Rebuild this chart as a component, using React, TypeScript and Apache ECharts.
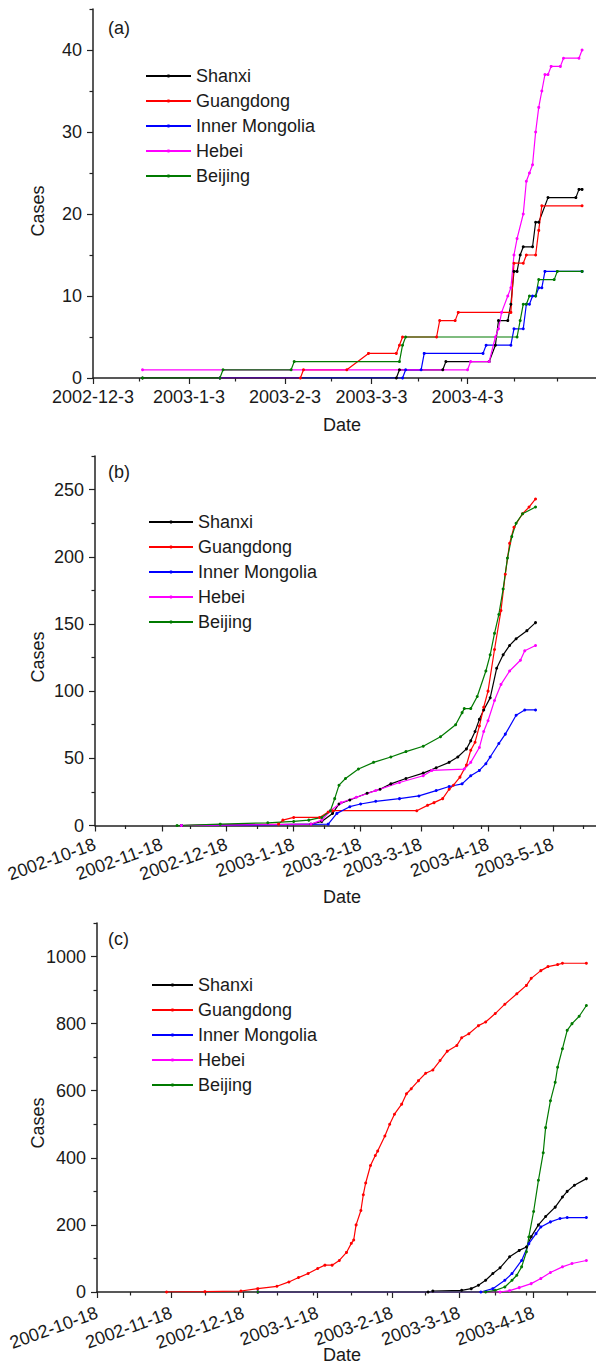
import React, { useEffect, useRef } from "react";
import * as echarts from "echarts";

type Pt = [string, number];

const NAMES = ["Shanxi", "Guangdong", "Inner Mongolia", "Hebei", "Beijing"];
const COLORS = ["#000000", "#ff0000", "#0000ff", "#ff00ff", "#007a00"];

// ---------- Panel (a) ----------
const aShanxi: Pt[] = [["2002-12-19",0],["2003-3-11",0],["2003-3-12",1],["2003-3-26",1],["2003-3-27",2],["2003-4-10",2],["2003-4-12",4],["2003-4-13",7],["2003-4-16",7],["2003-4-17",9],["2003-4-18",13],["2003-4-19",13],["2003-4-20",15],["2003-4-21",16],["2003-4-24",16],["2003-4-25",19],["2003-4-26",19],["2003-4-29",22],["2003-5-8",22],["2003-5-9",23],["2003-5-10",23]];
const aGuangdong: Pt[] = [["2003-1-13",0],["2003-2-8",0],["2003-2-9",1],["2003-2-23",1],["2003-3-2",3],["2003-3-11",3],["2003-3-12",4],["2003-3-13",5],["2003-3-24",5],["2003-3-25",7],["2003-3-30",7],["2003-3-31",8],["2003-4-17",8],["2003-4-18",14],["2003-4-21",14],["2003-4-22",15],["2003-4-25",15],["2003-4-26",18],["2003-4-27",21],["2003-5-10",21]];
const aInnerMongolia: Pt[] = [["2003-1-13",0],["2003-3-13",0],["2003-3-14",1],["2003-3-19",1],["2003-3-20",3],["2003-4-8",3],["2003-4-9",4],["2003-4-17",4],["2003-4-18",6],["2003-4-21",6],["2003-4-22",9],["2003-4-23",9],["2003-4-24",10],["2003-4-25",10],["2003-4-26",11],["2003-4-27",11],["2003-4-28",13],["2003-5-10",13]];
const aHebei: Pt[] = [["2002-12-19",1],["2003-4-3",1],["2003-4-4",2],["2003-4-10",2],["2003-4-12",5],["2003-4-13",6],["2003-4-14",8],["2003-4-16",10],["2003-4-17",11],["2003-4-18",15],["2003-4-19",17],["2003-4-21",20],["2003-4-22",24],["2003-4-23",25],["2003-4-24",26],["2003-4-25",30],["2003-4-26",33],["2003-4-27",35],["2003-4-28",37],["2003-4-29",37],["2003-4-30",38],["2003-5-3",38],["2003-5-4",39],["2003-5-9",39],["2003-5-10",40]];
const aBeijing: Pt[] = [["2002-12-19",0],["2003-1-13",0],["2003-1-14",1],["2003-2-5",1],["2003-2-6",2],["2003-3-12",2],["2003-3-13",4],["2003-3-14",5],["2003-4-19",5],["2003-4-20",7],["2003-4-21",9],["2003-4-22",9],["2003-4-23",10],["2003-4-25",10],["2003-4-26",12],["2003-5-1",12],["2003-5-2",13],["2003-5-10",13]];

// ---------- Panel (b) ----------
const bShanxi: Pt[] = [["2002-11-27",0],["2003-1-26",1],["2003-1-31",3],["2003-2-5",9],["2003-2-8",16],["2003-2-13",19],["2003-2-21",24],["2003-2-27",27],["2003-3-4",31],["2003-3-11",35],["2003-3-19",39],["2003-3-25",43],["2003-3-31",47],["2003-4-4",51],["2003-4-8",57],["2003-4-10",63],["2003-4-12",70],["2003-4-14",79],["2003-4-16",86],["2003-4-19",95],["2003-4-22",117],["2003-4-25",127],["2003-4-28",134],["2003-5-1",139],["2003-5-6",145],["2003-5-10",151]];
const bGuangdong: Pt[] = [["2002-11-27",0],["2003-1-11",1],["2003-1-13",4],["2003-1-18",6],["2003-1-30",6],["2003-2-3",10],["2003-2-5",11],["2003-3-16",11],["2003-3-21",15],["2003-3-24",17],["2003-3-28",20],["2003-3-31",27],["2003-4-2",30],["2003-4-5",36],["2003-4-8",45],["2003-4-10",56],["2003-4-12",62],["2003-4-14",74],["2003-4-16",88],["2003-4-18",100],["2003-4-21",131],["2003-4-24",160],["2003-4-26",187],["2003-4-28",210],["2003-4-30",222],["2003-5-4",232],["2003-5-7",237],["2003-5-10",243]];
const bInnerMongolia: Pt[] = [["2002-11-27",0],["2003-2-3",1],["2003-2-7",9],["2003-2-13",14],["2003-2-18",16],["2003-2-25",18],["2003-3-8",20],["2003-3-17",22],["2003-3-25",26],["2003-3-31",29],["2003-4-6",31],["2003-4-10",37],["2003-4-14",41],["2003-4-17",46],["2003-4-19",51],["2003-4-23",61],["2003-4-26",68],["2003-5-1",82],["2003-5-5",86],["2003-5-10",86]];
const bHebei: Pt[] = [["2002-11-27",0],["2003-1-26",1],["2003-1-31",4],["2003-2-4",11],["2003-2-9",17],["2003-2-16",21],["2003-2-25",26],["2003-3-8",32],["2003-3-19",37],["2003-3-23",41],["2003-4-7",42],["2003-4-10",47],["2003-4-14",58],["2003-4-16",70],["2003-4-18",78],["2003-4-21",93],["2003-4-24",105],["2003-4-28",115],["2003-5-3",123],["2003-5-5",130],["2003-5-10",134]];
const bBeijing: Pt[] = [["2002-11-25",0],["2002-12-15",1],["2003-1-6",2],["2003-1-18",3],["2003-1-25",4],["2003-1-31",6],["2003-2-4",11],["2003-2-6",20],["2003-2-8",30],["2003-2-11",35],["2003-2-17",42],["2003-2-24",47],["2003-3-4",51],["2003-3-11",55],["2003-3-19",59],["2003-3-27",66],["2003-4-3",75],["2003-4-6",84],["2003-4-7",87],["2003-4-10",87],["2003-4-13",96],["2003-4-17",115],["2003-4-19",127],["2003-4-21",143],["2003-4-23",157],["2003-4-25",176],["2003-4-27",199],["2003-4-29",215],["2003-5-1",225],["2003-5-4",232],["2003-5-10",237]];

// ---------- Panel (c) ----------
const cShanxi: Pt[] = [["2002-12-24",0],["2003-3-5",0],["2003-3-7",3],["2003-3-19",5],["2003-3-23",10],["2003-3-26",20],["2003-3-29",35],["2003-4-1",55],["2003-4-4",72],["2003-4-8",105],["2003-4-12",124],["2003-4-15",134],["2003-4-17",165],["2003-4-20",200],["2003-4-23",225],["2003-4-27",253],["2003-4-30",283],["2003-5-2",300],["2003-5-5",318],["2003-5-10",338]];
const cGuangdong: Pt[] = [["2002-11-16",0],["2002-12-2",1],["2002-12-17",3],["2002-12-24",10],["2003-1-1",17],["2003-1-6",30],["2003-1-10",43],["2003-1-14",55],["2003-1-18",70],["2003-1-21",80],["2003-1-24",80],["2003-1-27",94],["2003-1-30",118],["2003-2-1",145],["2003-2-2",155],["2003-2-3",200],["2003-2-5",243],["2003-2-6",290],["2003-2-7",325],["2003-2-9",377],["2003-2-11",407],["2003-2-12",420],["2003-2-15",465],["2003-2-17",500],["2003-2-19",530],["2003-2-22",560],["2003-2-24",591],["2003-2-26",606],["2003-3-1",630],["2003-3-4",652],["2003-3-7",662],["2003-3-10",690],["2003-3-13",718],["2003-3-17",735],["2003-3-19",758],["2003-3-22",770],["2003-3-26",794],["2003-3-29",805],["2003-4-2",830],["2003-4-6",858],["2003-4-11",889],["2003-4-15",914],["2003-4-17",935],["2003-4-21",958],["2003-4-24",970],["2003-4-28",976],["2003-4-30",980],["2003-5-10",980]];
const cInnerMongolia: Pt[] = [["2002-12-24",0],["2003-3-27",0],["2003-4-1",10],["2003-4-6",35],["2003-4-9",55],["2003-4-13",94],["2003-4-16",144],["2003-4-19",174],["2003-4-21",194],["2003-4-25",209],["2003-4-29",219],["2003-5-2",222],["2003-5-10",222]];
const cHebei: Pt[] = [["2002-12-24",0],["2003-4-4",0],["2003-4-8",4],["2003-4-12",13],["2003-4-17",25],["2003-4-21",40],["2003-4-25",58],["2003-4-30",75],["2003-5-4",85],["2003-5-10",94]];
const cBeijing: Pt[] = [["2002-12-24",0],["2003-3-29",0],["2003-4-2",5],["2003-4-6",15],["2003-4-9",35],["2003-4-11",50],["2003-4-13",75],["2003-4-15",120],["2003-4-16",164],["2003-4-18",240],["2003-4-20",333],["2003-4-22",415],["2003-4-23",490],["2003-4-25",570],["2003-4-27",625],["2003-4-28",670],["2003-4-30",725],["2003-5-2",780],["2003-5-4",800],["2003-5-7",822],["2003-5-10",854]];

// ---------- Axis ticks ----------
const aXMajor = ["2002-12-3","2003-1-3","2003-2-3","2003-3-3","2003-4-3"];
const aXMinor = ["2002-12-18","2003-1-18","2003-2-18","2003-3-18","2003-4-1","2003-4-18","2003-5-2"];
const aYMajor = [0,10,20,30,40];
const aYMinor = [5,15,25,35,45];
const bXMajor = ["2002-10-18","2002-11-18","2002-12-18","2003-1-18","2003-2-18","2003-3-18","2003-4-18","2003-5-18"];
const bXMinor = ["2002-11-1","2002-12-1","2003-1-1","2003-1-15","2003-2-1","2003-2-15","2003-3-4","2003-4-2","2003-4-15","2003-5-3","2003-6-1"];
const bYMajor = [0,50,100,150,200,250];
const bYMinor = [25,75,125,175,225,275];
const cXMajor = ["2002-10-18","2002-11-18","2002-12-18","2003-1-18","2003-2-18","2003-3-18","2003-4-18"];
const cXMinor = ["2002-11-1","2002-12-2","2002-12-16","2003-1-1","2003-1-16","2003-2-1","2003-2-16","2003-3-4","2003-4-2","2003-4-15","2003-5-2"];
const cYMajor = [0,200,400,600,800,1000];
const cYMinor = [100,300,500,700,900,1100];

const BASE = Date.UTC(2002, 9, 18);
const DAY = 86400000;
function toDay(s: string): number {
  const [y, m, d] = s.split("-").map(Number);
  return (Date.UTC(y, m - 1, d) - BASE) / DAY;
}
function fmtDay(v: number): string {
  const dt = new Date(BASE + Math.round(v) * DAY);
  return `${dt.getUTCFullYear()}-${dt.getUTCMonth() + 1}-${dt.getUTCDate()}`;
}

const FONT = '"Liberation Sans", Arial, Helvetica, sans-serif';
const TXT = "#1a1a1a";
const AX = "#222222";

export default function App() {
  const ref = useRef<HTMLDivElement>(null);
  useEffect(() => {
    document.body.style.margin = "0";
    if (!ref.current) return;
    const chart = echarts.init(ref.current, null, { renderer: "svg" });

    const panels = [
      {
        grid: { left: 93, top: 9, width: 503, height: 369 },
        xMin: toDay("2002-12-3"), xMax: toDay("2002-12-3") + 162.5, yMax: 45,
        xMajor: aXMajor, xMinor: aXMinor, yMajor: aYMajor, yMinor: aYMinor,
        rotate: 0, xMargin: 10,
        series: [aShanxi, aGuangdong, aInnerMongolia, aHebei, aBeijing],
        legend: { left: 140, top: 62, itemWidth: 45 },
        tag: "(a)", tagY: 28, casesY: 211, dateY: 425,
      },
      {
        grid: { left: 95, top: 456, width: 501, height: 369.5 },
        xMin: 0, xMax: 232, yMax: 275,
        xMajor: bXMajor, xMinor: bXMinor, yMajor: bYMajor, yMinor: bYMinor,
        rotate: 20, xMargin: 18,
        series: [bShanxi, bGuangdong, bInnerMongolia, bHebei, bBeijing],
        legend: { left: 143, top: 508, itemWidth: 44 },
        tag: "(b)", tagY: 472, casesY: 657, dateY: 897,
      },
      {
        grid: { left: 97, top: 923, width: 499, height: 369 },
        xMin: 0, xMax: 208, yMax: 1100,
        xMajor: cXMajor, xMinor: cXMinor, yMajor: cYMajor, yMinor: cYMinor,
        rotate: 20, xMargin: 20,
        series: [cShanxi, cGuangdong, cInnerMongolia, cHebei, cBeijing],
        legend: { left: 146, top: 971, itemWidth: 41 },
        tag: "(c)", tagY: 939, casesY: 1123, dateY: 1355,
      },
    ];

    const grids: any[] = [];
    const xAxes: any[] = [];
    const yAxes: any[] = [];
    const series: any[] = [];
    const legends: any[] = [];
    const graphics: any[] = [];

    panels.forEach((p, i) => {
      grids.push(p.grid);
      const xMaj = p.xMajor.map(toDay);
      const xMin = p.xMinor.map(toDay);
      xAxes.push({
        type: "value", gridIndex: i, position: "bottom", min: p.xMin, max: p.xMax,
        axisLine: { show: true, onZero: false, lineStyle: { color: AX, width: 1.5 } },
        axisTick: { show: true, customValues: xMaj, length: 6, lineStyle: { color: AX, width: 1.2 } },
        axisLabel: {
          show: true, customValues: xMaj, formatter: (v: number) => fmtDay(v),
          rotate: p.rotate, margin: p.xMargin, fontSize: 18, fontFamily: FONT, color: TXT,
        },
        splitLine: { show: false },
      });
      xAxes.push({
        type: "value", gridIndex: i, position: "bottom", min: p.xMin, max: p.xMax,
        axisLine: { show: false, onZero: false },
        axisTick: { show: true, customValues: xMin, length: 3.5, lineStyle: { color: AX, width: 1.2 } },
        axisLabel: { show: false },
        splitLine: { show: false },
      });
      yAxes.push({
        type: "value", gridIndex: i, position: "left", min: 0, max: p.yMax,
        axisLine: { show: true, onZero: false, lineStyle: { color: AX, width: 1.5 } },
        axisTick: { show: true, customValues: p.yMajor, length: 6, lineStyle: { color: AX, width: 1.2 } },
        axisLabel: {
          show: true, customValues: p.yMajor, margin: 11, fontSize: 18, fontFamily: FONT, color: TXT,
          formatter: (v: number) => String(v),
        },
        splitLine: { show: false },
      });
      yAxes.push({
        type: "value", gridIndex: i, position: "left", min: 0, max: p.yMax,
        axisLine: { show: false, onZero: false },
        axisTick: { show: true, customValues: p.yMinor, length: 3.5, lineStyle: { color: AX, width: 1.2 } },
        axisLabel: { show: false },
        splitLine: { show: false },
      });
      p.series.forEach((arr, k) => {
        series.push({
          type: "line", name: NAMES[k], xAxisIndex: 2 * i, yAxisIndex: 2 * i,
          data: arr.map(([d, v]) => [toDay(d), v]),
          symbol: "circle", symbolSize: 3, showSymbol: true, showAllSymbol: true,
          lineStyle: { width: 1.2, color: COLORS[k] },
          itemStyle: { color: COLORS[k] },
          silent: true, clip: true,
        });
      });
      legends.push({
        data: NAMES, orient: "vertical", left: p.legend.left, top: p.legend.top,
        itemWidth: p.legend.itemWidth, itemHeight: 4, itemGap: 7, selectedMode: false,
        textStyle: { fontSize: 18, fontFamily: FONT, color: TXT },
      });
      graphics.push({
        type: "text", x: 108, y: p.tagY,
        style: { text: p.tag, fontSize: 18, fontFamily: FONT, fill: TXT, verticalAlign: "middle", align: "left" },
      });
      graphics.push({
        type: "text", x: 38, y: p.casesY, rotation: Math.PI / 2,
        style: { text: "Cases", fontSize: 18, fontFamily: FONT, fill: TXT, verticalAlign: "middle", align: "center" },
      });
      graphics.push({
        type: "text", x: 342, y: p.dateY,
        style: { text: "Date", fontSize: 18, fontFamily: FONT, fill: TXT, verticalAlign: "middle", align: "center" },
      });
    });

    chart.setOption({
      animation: false,
      backgroundColor: "#ffffff",
      grid: grids,
      xAxis: xAxes,
      yAxis: yAxes,
      legend: legends,
      series,
      graphic: graphics,
    });
    return () => chart.dispose();
  }, []);
  return <div ref={ref} style={{ width: 596, height: 1365 }} />;
}
